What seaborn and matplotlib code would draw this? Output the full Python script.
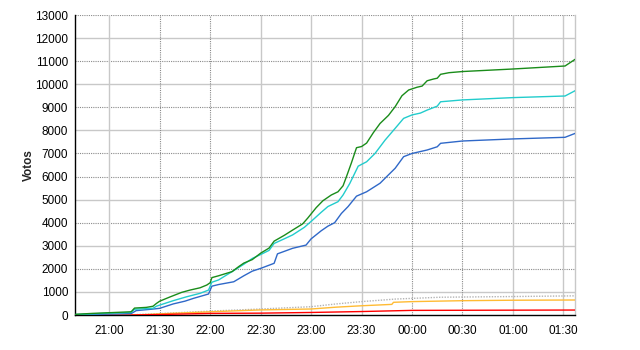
import matplotlib
matplotlib.use("Agg")
import matplotlib.pyplot as plt
import matplotlib.dates as mdates
import seaborn as sns
import pandas as pd

# ---- data ----
green_t = ["20:40", "20:50", "21:00", "21:10", "21:13", "21:15", "21:22", "21:26", "21:28", "21:30",
           "21:36", "21:43", "21:48", "21:54", "21:58", "22:00", "22:01", "22:05", "22:13", "22:17",
           "22:20", "22:25", "22:30", "22:35", "22:38", "22:44", "22:49", "22:55", "22:58", "23:03",
           "23:07", "23:12", "23:16", "23:19", "23:21", "23:24", "23:27", "23:30", "23:33", "23:37",
           "23:41", "23:46", "23:50", "23:54", "23:58", "00:03", "00:06", "00:09", "00:13", "00:15",
           "00:17", "00:22", "00:30", "01:00", "01:31", "01:37"]
green_v = [30, 70, 100, 130, 140, 300, 330, 380, 500, 600,
           780, 980, 1080, 1180, 1300, 1400, 1620, 1700, 1880, 2100,
           2250, 2400, 2680, 2900, 3200, 3450, 3680, 3950, 4200, 4650,
           4950, 5200, 5340, 5600, 5990, 6600, 7250, 7300, 7450, 7900,
           8300, 8650, 9030, 9500, 9750, 9870, 9920, 10150, 10230, 10260,
           10430, 10500, 10550, 10660, 10790, 11080]

cyan_t = ["20:40", "21:00", "21:13", "21:15", "21:26", "21:28", "21:30", "21:38", "21:46", "21:54",
          "21:59", "22:01", "22:05", "22:13", "22:20", "22:25", "22:30", "22:35", "22:38", "22:44",
          "22:49", "22:56", "23:01", "23:06", "23:10", "23:16", "23:19", "23:23", "23:28", "23:33",
          "23:38", "23:44", "23:50", "23:55", "00:00", "00:05", "00:09", "00:15", "00:17", "00:30",
          "01:00", "01:31", "01:37"]
cyan_v = [20, 80, 110, 250, 290, 380, 430, 620, 790, 940,
          1080, 1420, 1520, 1880, 2200, 2450, 2620, 2800, 3100, 3300,
          3470, 3800, 4120, 4450, 4700, 4910, 5200, 5700, 6450, 6640,
          7000, 7580, 8090, 8520, 8670, 8750, 8880, 9050, 9240, 9320,
          9420, 9490, 9720]

blue_t = ["20:40", "21:00", "21:13", "21:16", "21:25", "21:30", "21:38", "21:45", "21:50", "21:59",
          "22:01", "22:05", "22:14", "22:20", "22:25", "22:30", "22:38", "22:40", "22:49", "22:57",
          "23:00", "23:06", "23:10", "23:14", "23:18", "23:22", "23:27", "23:33", "23:41", "23:45",
          "23:50", "23:55", "00:00", "00:09", "00:15", "00:17", "00:30", "01:00", "01:31", "01:37"]
blue_v = [15, 40, 60, 190, 250, 290, 480, 600, 720, 910,
          1250, 1320, 1440, 1700, 1900, 2020, 2240, 2650, 2890, 3030,
          3300, 3650, 3850, 4000, 4400, 4700, 5150, 5340, 5710, 6000,
          6360, 6860, 7000, 7150, 7290, 7440, 7540, 7630, 7700, 7870]

gray_t = ["20:40", "21:10", "21:30", "22:00", "22:30", "23:00", "23:15", "23:30", "23:50", "00:00",
          "00:17", "01:00", "01:37"]
gray_v = [0, 0, 60, 170, 260, 360, 480, 580, 690, 720, 770, 800, 830]

orange_t = ["20:40", "21:15", "21:30", "22:00", "22:30", "23:00", "23:15", "23:30", "23:48", "23:49",
            "00:00", "00:30", "01:00", "01:37"]
orange_v = [0, 0, 50, 140, 220, 260, 340, 400, 460, 550, 580, 620, 640, 650]

red_t = ["20:40", "21:12", "21:30", "22:00", "22:30", "23:00", "23:15", "23:30", "00:00", "01:37"]
red_v = [0, 0, 20, 70, 80, 110, 130, 150, 200, 215]

series_names = ["gris", "naranja", "rojo", "azul", "cian", "verde"]
series_colors = ["#b4b4b4", "#ffbb33", "#ff0000", "#2f68c8", "#22cccc", "#1a8c1a"]

y_ticks = [0, 1000, 2000, 3000, 4000, 5000, 6000, 7000, 8000, 9000, 10000, 11000, 12000, 13000]
y_dotted = [2000, 4000, 6000, 7000, 9000, 11000, 13000]
y_solid = [1000, 3000, 5000, 8000, 10000, 12000]
x_ticks = ["21:00", "21:30", "22:00", "22:30", "23:00", "23:30", "00:00", "00:30", "01:00", "01:30"]
x_dotted = ["21:30", "22:00", "00:00", "00:30"]
x_solid = ["21:00", "22:30", "23:00", "23:30", "01:00", "01:30"]
x_range = ["20:39:36", "01:37:06"]
y_label = "Votos"


def ts(s):
    parts = s.split(":")
    h = int(parts[0])
    day = "2011-05-22" if h >= 12 else "2011-05-23"
    return pd.Timestamp(day + " " + s)


frames = []
for name, tt, vv in [("gris", gray_t, gray_v), ("naranja", orange_t, orange_v), ("rojo", red_t, red_v),
                     ("azul", blue_t, blue_v), ("cian", cyan_t, cyan_v), ("verde", green_t, green_v)]:
    frames.append(pd.DataFrame({"t": [ts(x) for x in tt], "v": vv, "s": name}))
df = pd.concat(frames, ignore_index=True)

# ---- figure ----
sns.set_style("white")
plt.rcParams["font.family"] = ["Liberation Sans", "DejaVu Sans"]

fig = plt.figure(figsize=(6.4, 3.5), dpi=100)
ax = fig.add_axes([75 / 640, 1 - 315 / 350, 500.3 / 640, 300 / 350])

# grid
for y in y_solid:
    ax.axhline(y, color="#c8c8c8", lw=1.0, zorder=0)
for y in y_dotted:
    ax.axhline(y, color="#8a8a8a", lw=0.8, ls=(0, (1, 1)), zorder=0)
for x in x_solid:
    ax.axvline(ts(x), color="#c8c8c8", lw=1.0, zorder=0)
for x in x_dotted:
    ax.axvline(ts(x), color="#8a8a8a", lw=0.8, ls=(0, (1, 1)), zorder=0)

palette = dict(zip(series_names, series_colors))
sns.lineplot(data=df, x="t", y="v", hue="s", hue_order=series_names, palette=palette,
             legend=False, lw=1.0, ax=ax, zorder=3)
# gray series is drawn dotted
ax.lines[-6].set_linestyle((0, (1, 1)))

ax.set_xlim(ts(x_range[0]), ts(x_range[1]))
ax.set_ylim(0, 13000)
ax.set_yticks(y_ticks)
ax.set_xticks([ts(x) for x in x_ticks])
ax.xaxis.set_major_formatter(mdates.DateFormatter("%H:%M"))
ax.tick_params(axis="both", labelsize=8.5, colors="black", length=3, width=0.8,
               direction="out", pad=2)
ax.tick_params(axis="x", pad=4)
ax.set_xlabel("")
ax.set_ylabel(y_label, fontsize=8.5, fontweight="bold", labelpad=0)

ax.spines["top"].set_visible(False)
ax.spines["right"].set_color("#c8c8c8")
ax.spines["right"].set_linewidth(1.0)
ax.spines["left"].set_color("black")
ax.spines["bottom"].set_color("black")
ax.spines["left"].set_linewidth(1.0)
ax.spines["bottom"].set_linewidth(1.0)

fig.savefig("out.png", dpi=100)
